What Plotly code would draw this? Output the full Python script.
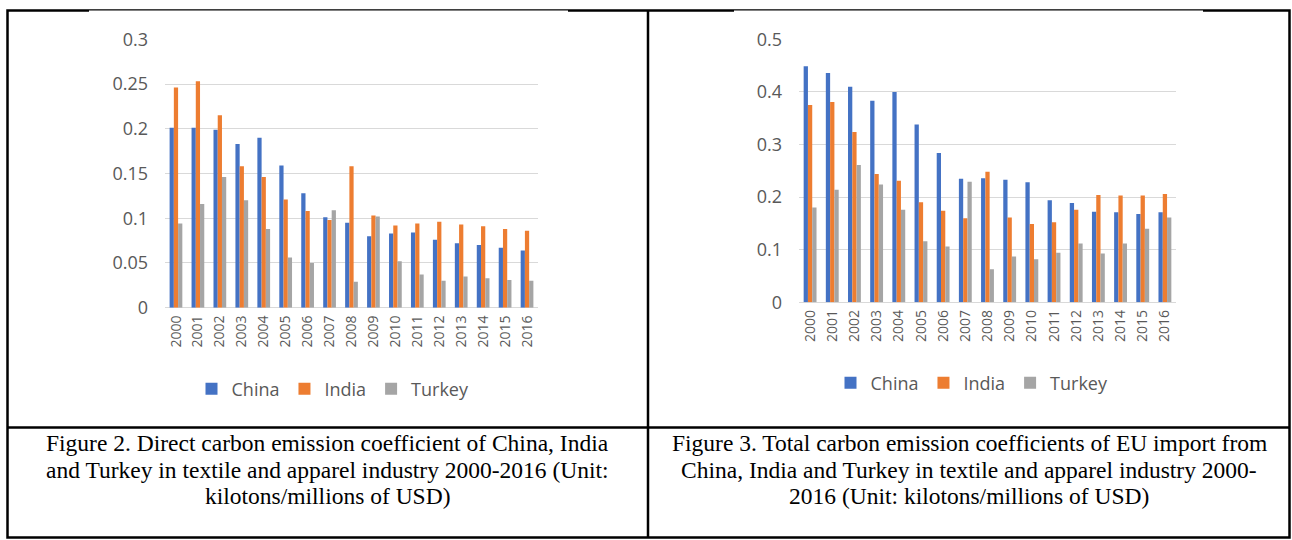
import plotly.graph_objects as go

# Years shown on both category axes
years = [str(y) for y in range(2000, 2017)]

# Figure 2: direct carbon emission coefficient (kilotons / millions of USD)
direct_china = [0.201, 0.201, 0.199, 0.183, 0.190, 0.159, 0.128, 0.101, 0.095, 0.080,
                0.083, 0.084, 0.076, 0.072, 0.070, 0.067, 0.064]
direct_india = [0.246, 0.253, 0.215, 0.158, 0.146, 0.121, 0.108, 0.098, 0.158, 0.103,
                0.092, 0.094, 0.096, 0.093, 0.091, 0.088, 0.086]
direct_turkey = [0.094, 0.116, 0.146, 0.120, 0.088, 0.056, 0.050, 0.109, 0.029, 0.102,
                 0.052, 0.037, 0.030, 0.035, 0.033, 0.031, 0.030]

# Figure 3: total carbon emission coefficient of EU imports
total_china = [0.449, 0.436, 0.410, 0.383, 0.400, 0.338, 0.284, 0.235, 0.236, 0.233,
               0.228, 0.194, 0.189, 0.172, 0.171, 0.168, 0.171]
total_india = [0.375, 0.381, 0.324, 0.244, 0.231, 0.190, 0.174, 0.160, 0.248, 0.161,
               0.149, 0.152, 0.176, 0.204, 0.203, 0.203, 0.206]
total_turkey = [0.180, 0.214, 0.261, 0.224, 0.176, 0.116, 0.106, 0.229, 0.063, 0.087,
                0.082, 0.094, 0.112, 0.093, 0.112, 0.140, 0.161]

left_ticks = [0, 0.05, 0.1, 0.15, 0.2, 0.25, 0.3]
left_ticktext = ["0", "0.05", "0.1", "0.15", "0.2", "0.25", "0.3"]
right_ticks = [0, 0.1, 0.2, 0.3, 0.4, 0.5]
right_ticktext = ["0", "0.1", "0.2", "0.3", "0.4", "0.5"]

series_names = ["China", "India", "Turkey"]
series_colors = ["#4472C4", "#ED7D31", "#A5A5A5"]

caption_left = ["Figure 2. Direct carbon emission coefficient of China, India",
                "and Turkey in textile and apparel industry 2000-2016 (Unit:",
                "kilotons/millions of USD)"]
caption_right = ["Figure 3. Total carbon emission coefficients of EU import from",
                 "China, India and Turkey in textile and apparel industry 2000-",
                 "2016 (Unit: kilotons/millions of USD)"]

W, H = 1292, 540


def px_x(v):
    return v / W


def px_y(v):
    return 1 - v / H


fig = go.Figure()

for name, color, vals in zip(series_names, series_colors,
                             [direct_china, direct_india, direct_turkey]):
    fig.add_trace(go.Bar(x=years, y=vals, name=name, marker_color=color,
                         marker_line_width=0, xaxis="x", yaxis="y",
                         legend="legend"))

for name, color, vals in zip(series_names, series_colors,
                             [total_china, total_india, total_turkey]):
    fig.add_trace(go.Bar(x=years, y=vals, name=name, marker_color=color,
                         marker_line_width=0, xaxis="x2", yaxis="y2",
                         legend="legend2"))

tick_font = dict(family="Open Sans", size=18, color="#595959")
year_font = dict(family="Open Sans", size=14, color="#595959")
grid = "#D9D9D9"

xaxis_common = dict(type="category", tickangle=-90, tickfont=year_font,
                    showgrid=False, showline=False, ticks="",
                    ticklabelstandoff=4, fixedrange=True, automargin=False)
yaxis_common = dict(showgrid=True, gridcolor=grid, gridwidth=1.3,
                    zeroline=True, zerolinecolor=grid, zerolinewidth=1.3,
                    showline=False, ticks="", tickfont=tick_font,
                    ticklabelstandoff=16, fixedrange=True, automargin=False)

fig.update_layout(
    template="none",
    width=W, height=H,
    margin=dict(l=0, r=0, t=0, b=0, pad=0, autoexpand=False),
    paper_bgcolor="white", plot_bgcolor="white",
    barmode="group", bargap=0.42, bargroupgap=0,
    xaxis=dict(domain=[px_x(165), px_x(538)], anchor="y", **xaxis_common),
    yaxis=dict(domain=[px_y(307.7), px_y(39.3)], anchor="x", range=[0, 0.3],
               tickvals=left_ticks, ticktext=left_ticktext, **yaxis_common),
    xaxis2=dict(domain=[px_x(799), px_x(1176)], anchor="y2", **xaxis_common),
    yaxis2=dict(domain=[px_y(302.3), px_y(39.3)], anchor="x2", range=[0, 0.5],
                tickvals=right_ticks, ticktext=right_ticktext, **yaxis_common),
    legend=dict(orientation="h", x=px_x(333), xanchor="center",
                y=px_y(389), yanchor="middle",
                font=dict(family="Open Sans", size=18, color="#595959"),
                bgcolor="rgba(0,0,0,0)", borderwidth=0),
    legend2=dict(orientation="h", x=px_x(972), xanchor="center",
                 y=px_y(383), yanchor="middle",
                 font=dict(family="Open Sans", size=18, color="#595959"),
                 bgcolor="rgba(0,0,0,0)", borderwidth=0),
    showlegend=True,
)

# Table frame around the two figures and their captions
line = dict(color="black", width=2.5)
fig.add_shape(type="rect", xref="paper", yref="paper",
              x0=px_x(7.5), x1=px_x(1289.5), y0=px_y(537.5), y1=px_y(10.5),
              line=line, layer="above")
fig.add_shape(type="line", xref="paper", yref="paper",
              x0=px_x(648), x1=px_x(648), y0=px_y(537.5), y1=px_y(10.5),
              line=line, layer="above")
fig.add_shape(type="line", xref="paper", yref="paper",
              x0=px_x(7.5), x1=px_x(1289.5), y0=px_y(427.5), y1=px_y(427.5),
              line=line, layer="above")
# chart images sit slightly over the top rule, thinning it
for a, b in [(89, 568), (734, 1203)]:
    fig.add_shape(type="rect", xref="paper", yref="paper",
                  x0=px_x(a), x1=px_x(b), y0=px_y(12.5), y1=px_y(10.6),
                  line=dict(width=0), fillcolor="white", layer="above")

# Captions, one annotation per line so the line pitch stays tight
cap_font = dict(family="Liberation Serif", size=23.5, color="black")
baselines = [451, 478, 504]
for cx, lines in [(327.5, caption_left), (969, caption_right)]:
    for base, txt in zip(baselines, lines):
        fig.add_annotation(text=txt, xref="paper", yref="paper",
                           x=px_x(cx), y=px_y(base - 8), xanchor="center",
                           yanchor="middle", showarrow=False, align="center",
                           font=cap_font)

fig.write_html("out.html")
